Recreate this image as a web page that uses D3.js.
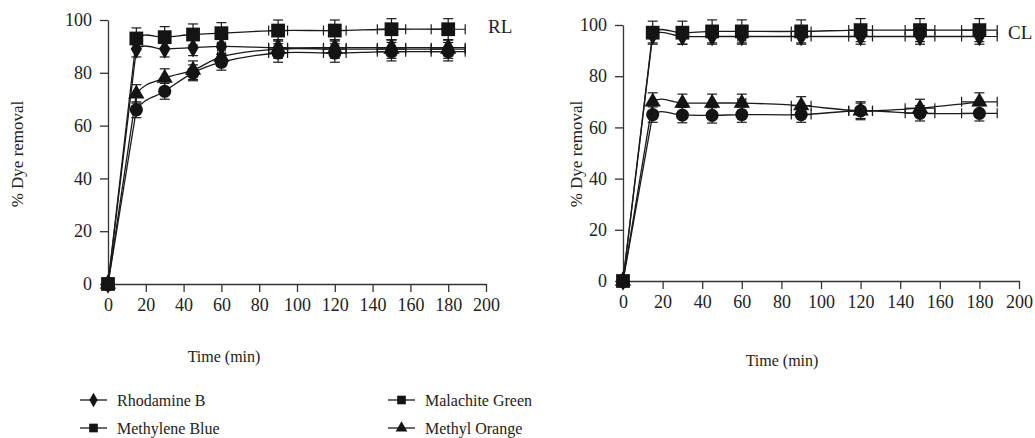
<!DOCTYPE html>
<meta charset="utf-8">
<style>
body { margin: 0; background: #fff; }
.axis path, .axis line { stroke: #333; stroke-width: 1.3px; }
.series path.line { fill: none; stroke: #1a1a1a; stroke-width: 1.3px; }
.err line { stroke: #1a1a1a; stroke-width: 1.2px; }
</style>
<svg width="1035" height="438" font-family="Liberation Serif"></svg>
<script src="https://d3js.org/d3.v7.min.js"></script>
<script>
// sampling times (min) and horizontal error on time
var times = [0, 15, 30, 45, 60, 90, 120, 150, 180];
var timeErr = [0, 0, 0, 0, 2, 5, 6, 7.5, 9];
var xTicks = [0, 20, 40, 60, 80, 100, 120, 140, 160, 180, 200];
var yTicks = [0, 20, 40, 60, 80, 100];

// RL panel
var rlRhodamine = [0, 89, 89, 89.5, 90, 89.5, 89.5, 89.5, 89.5];
var rlMethyleneBlue = [0, 93, 93.5, 94.5, 95, 96, 96, 96.5, 96.5];
var rlMalachite = [0, 66, 73, 80, 84, 87.5, 87.5, 88, 88];
var rlMethylOrange = [0, 72, 78, 81, 86, 89, 89, 89, 89];
var rlErrRhodamine = [0, 3, 3, 3, 3, 3, 3, 3, 3];
var rlErrMethyleneBlue = [0, 4, 4, 4, 4, 4, 4, 4, 4];
var rlErrMalachite = [0, 3, 3, 3, 3, 3.5, 3.5, 3.5, 3.5];
var rlErrMethylOrange = [0, 3.5, 3.5, 3.5, 3.5, 3.5, 3.5, 3.5, 3.5];

// CL panel
var clRhodamine = [0, 96, 95.5, 95.5, 95.5, 95.5, 95.5, 95.5, 95.5];
var clMethyleneBlue = [0, 97, 97, 97.5, 97.5, 97.5, 98, 98, 98];
var clMalachite = [0, 65, 64.8, 64.7, 65, 65, 66.5, 65.5, 65.5];
var clMethylOrange = [0, 70, 69.5, 69.5, 69.5, 68.5, 66.5, 67.5, 70];
var clErrRhodamine = [0, 3, 3, 3, 3, 3, 3, 3, 3];
var clErrMethyleneBlue = [0, 4.5, 4.5, 4.5, 4.5, 4.5, 4.5, 4.5, 4.5];
var clErrMalachite = [0, 3, 3, 3, 3, 3, 3, 3, 3];
var clErrMethylOrange = [0, 3.5, 3.5, 3.5, 3.5, 3.5, 3.5, 3.5, 3.5];

var legendNames = ["Rhodamine B", "Methylene Blue", "Malachite Green", "Methyl Orange"];

var svg = d3.select("svg");
var serif = "Liberation Serif";
var defs = svg.append("defs");

var shapes = {
  diamond: d3.symbol().type(d3.symbolDiamond).size(110),
  square: d3.symbol().type(d3.symbolSquare).size(190),
  circle: d3.symbol().type(d3.symbolCircle).size(135),
  triangle: d3.symbol().type(d3.symbolTriangle).size(115)
};

function panel(opt) {
  var x = d3.scaleLinear().domain([0, 200]).range(opt.xr);
  var y = d3.scaleLinear().domain([0, 100]).range(opt.yr);
  var g = svg.append("g");

  // smooth part of the lines starts at the first sample after 0
  defs.append("clipPath").attr("id", opt.id)
    .append("rect").attr("x", x(times[1])).attr("y", 0)
    .attr("width", opt.xr[1] - x(times[1]) + 40).attr("height", opt.yr[0]);

  var xa = g.append("g").attr("class", "axis")
    .attr("transform", "translate(0," + opt.yr[0] + ")")
    .call(d3.axisBottom(x).tickValues(xTicks).tickSize(8).tickSizeOuter(0).tickPadding(6));
  var ya = g.append("g").attr("class", "axis")
    .attr("transform", "translate(" + opt.xr[0] + ",0)")
    .call(d3.axisLeft(y).tickValues(yTicks).tickSize(8).tickSizeOuter(0).tickPadding(8));
  [xa, ya].forEach(function(a) {
    a.attr("font-family", serif).attr("font-size", 18);
    a.selectAll("text").attr("font-family", serif).attr("fill", "#222");
  });

  var line = d3.line()
    .x(function(d) { return x(d.t); })
    .y(function(d) { return y(d.v); })
    .curve(d3.curveCatmullRom.alpha(0.5));
  var straight = d3.line()
    .x(function(d) { return x(d.t); })
    .y(function(d) { return y(d.v); });

  opt.series.forEach(function(s) {
    var pts = times.map(function(t, i) { return {t: t, v: s.values[i], e: s.err[i], te: timeErr[i]}; });
    var sg = g.append("g").attr("class", "series");
    sg.append("path").attr("class", "line").attr("d", straight(pts.slice(0, 2)));
    sg.append("path").attr("class", "line").attr("clip-path", "url(#" + opt.id + ")").attr("d", line(pts));
    var eg = sg.append("g").attr("class", "err");
    pts.filter(function(d) { return d.e > 0; }).forEach(function(d) {
      var cx = x(d.t), cy = y(d.v);
      eg.append("line").attr("x1", cx).attr("x2", cx).attr("y1", y(d.v - d.e)).attr("y2", y(d.v + d.e));
      eg.append("line").attr("x1", cx - 5).attr("x2", cx + 5).attr("y1", y(d.v + d.e)).attr("y2", y(d.v + d.e));
      eg.append("line").attr("x1", cx - 5).attr("x2", cx + 5).attr("y1", y(d.v - d.e)).attr("y2", y(d.v - d.e));
      if (d.te > 0) {
        eg.append("line").attr("x1", x(d.t - d.te)).attr("x2", x(d.t + d.te)).attr("y1", cy).attr("y2", cy);
        eg.append("line").attr("x1", x(d.t - d.te)).attr("x2", x(d.t - d.te)).attr("y1", cy - 5).attr("y2", cy + 5);
        eg.append("line").attr("x1", x(d.t + d.te)).attr("x2", x(d.t + d.te)).attr("y1", cy - 5).attr("y2", cy + 5);
      }
    });
  });
  opt.series.forEach(function(s) {
    g.append("g").selectAll("path")
      .data(times.map(function(t, i) { return {t: t, v: s.values[i]}; }))
      .join("path")
      .attr("transform", function(d) { return "translate(" + x(d.t) + "," + y(d.v) + ")"; })
      .attr("d", shapes[s.shape])
      .attr("fill", "#141414");
  });

  g.append("text").attr("x", opt.tag[0]).attr("y", opt.tag[1])
    .attr("font-family", serif).attr("font-size", 19).attr("fill", "#222").text(opt.tagText);
  g.append("text")
    .attr("transform", "translate(" + opt.ylab[0] + "," + opt.ylab[1] + ") rotate(-90)")
    .attr("text-anchor", "middle").attr("font-family", serif).attr("font-size", 17).attr("fill", "#222")
    .text("% Dye removal");
  g.append("text").attr("x", opt.xlab[0]).attr("y", opt.xlab[1])
    .attr("text-anchor", "middle").attr("font-family", serif).attr("font-size", 16).attr("fill", "#222")
    .text("Time (min)");
}

panel({
  id: "clipRL", xr: [108, 486], yr: [284, 20], tag: [488, 33], tagText: "RL", ylab: [23, 154], xlab: [224, 362],
  series: [
    {values: rlMethylOrange, err: rlErrMethylOrange, shape: "triangle"},
    {values: rlMalachite, err: rlErrMalachite, shape: "circle"},
    {values: rlRhodamine, err: rlErrRhodamine, shape: "diamond"},
    {values: rlMethyleneBlue, err: rlErrMethyleneBlue, shape: "square"}
  ]
});
panel({
  id: "clipCL", xr: [623, 1019], yr: [281, 25], tag: [1008, 39], tagText: "CL", ylab: [582, 154], xlab: [782, 366],
  series: [
    {values: clMethylOrange, err: clErrMethylOrange, shape: "triangle"},
    {values: clMalachite, err: clErrMalachite, shape: "circle"},
    {values: clRhodamine, err: clErrRhodamine, shape: "diamond"},
    {values: clMethyleneBlue, err: clErrMethyleneBlue, shape: "square"}
  ]
});

// legend (two columns, as in the figure)
var legendShapes = ["diamond", "square", "square", "triangle"];
var legendPos = [[80, 400], [80, 428], [388, 400], [388, 428]];
var leg = svg.append("g").selectAll("g").data(legendNames).join("g")
  .attr("transform", function(d, i) { return "translate(" + legendPos[i][0] + "," + legendPos[i][1] + ")"; });
leg.append("line").attr("x1", 0).attr("x2", 27).attr("y1", 0).attr("y2", 0)
  .attr("stroke", "#1a1a1a").attr("stroke-width", 1.3);
leg.append("path").attr("transform", "translate(13.5,0)")
  .attr("d", function(d, i) { return d3.symbol().type({diamond: d3.symbolDiamond, square: d3.symbolSquare, triangle: d3.symbolTriangle}[legendShapes[i]]).size(legendShapes[i] === "square" ? 75 : 60)(); })
  .attr("fill", "#141414");
leg.append("text").attr("x", 37).attr("y", 5.5)
  .attr("font-family", serif).attr("font-size", 16).attr("fill", "#222")
  .text(function(d) { return d; });
</script>
